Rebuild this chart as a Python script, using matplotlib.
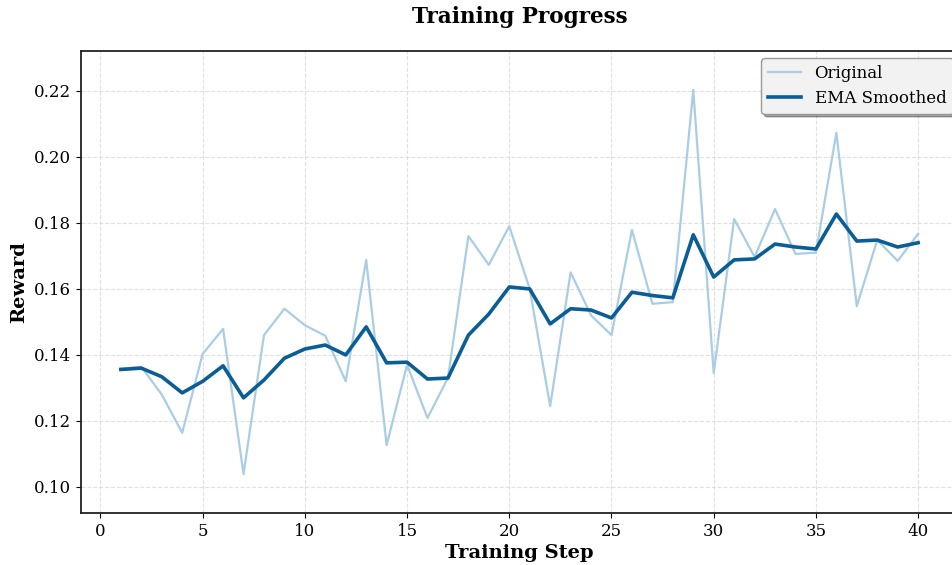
import matplotlib
matplotlib.use("Agg")
import matplotlib.pyplot as plt
import numpy as np

# Reward per training step
steps = list(range(1, 41))
original = [0.1358, 0.1364, 0.1280, 0.1164, 0.1403, 0.1479, 0.1039, 0.1460, 0.1540, 0.1490,
            0.1458, 0.1320, 0.1688, 0.1127, 0.1370, 0.1209, 0.1330, 0.1760, 0.1673, 0.1790,
            0.1600, 0.1245, 0.1650, 0.1520, 0.1460, 0.1779, 0.1555, 0.1560, 0.2203, 0.1345,
            0.1812, 0.1697, 0.1842, 0.1706, 0.1710, 0.2073, 0.1548, 0.1748, 0.1685, 0.1767]
ema = [0.1356, 0.1360, 0.1334, 0.1285, 0.1320, 0.1367, 0.1270, 0.1324, 0.1390, 0.1418,
       0.1430, 0.1400, 0.1485, 0.1376, 0.1378, 0.1327, 0.1330, 0.1460, 0.1524, 0.1606,
       0.1600, 0.1494, 0.1540, 0.1536, 0.1512, 0.1590, 0.1580, 0.1573, 0.1764, 0.1636,
       0.1688, 0.1691, 0.1736, 0.1727, 0.1721, 0.1827, 0.1745, 0.1748, 0.1727, 0.1740]

plt.rcParams['font.family'] = ['DejaVu Serif']

fig = plt.figure(figsize=(9.52, 5.65), dpi=100)
ax = fig.add_axes([81 / 952, 52 / 565, 877 / 952, 462 / 565])

ax.plot(steps, original, color="#a9cde3", linewidth=1.6, label="Original")
ax.plot(steps, ema, color="#0b5e95", linewidth=2.6, label="EMA Smoothed")

ax.set_ylim(0.0921, 0.2321)
ax.set_xticks([0, 5, 10, 15, 20, 25, 30, 35, 40])
ax.set_yticks([0.10, 0.12, 0.14, 0.16, 0.18, 0.20, 0.22])
ax.set_yticklabels([f"{v:.2f}" for v in [0.10, 0.12, 0.14, 0.16, 0.18, 0.20, 0.22]])
ax.tick_params(labelsize=12)

ax.grid(True, linestyle="--", color="#d9d9d9", linewidth=0.8, alpha=0.8)
for s in ax.spines.values():
    s.set_linewidth(1.3)
    s.set_color("#222222")

ax.set_xlabel("Training Step", fontsize=14, fontweight="bold", labelpad=3)
ax.set_ylabel("Reward", fontsize=14, fontweight="bold")
fig.text(520 / 952, 1 - 17 / 565, "Training Progress", fontsize=15.5, fontweight="bold",
         ha="center", va="center")

leg = ax.legend(loc="upper right", fontsize=12, shadow=True, frameon=True,
                fancybox=True, borderaxespad=0.3, bbox_to_anchor=(1.0, 0.995))
leg.get_frame().set_facecolor("#f2f2f2")
leg.get_frame().set_edgecolor("#999999")

fig.savefig("out.png", dpi=100)
